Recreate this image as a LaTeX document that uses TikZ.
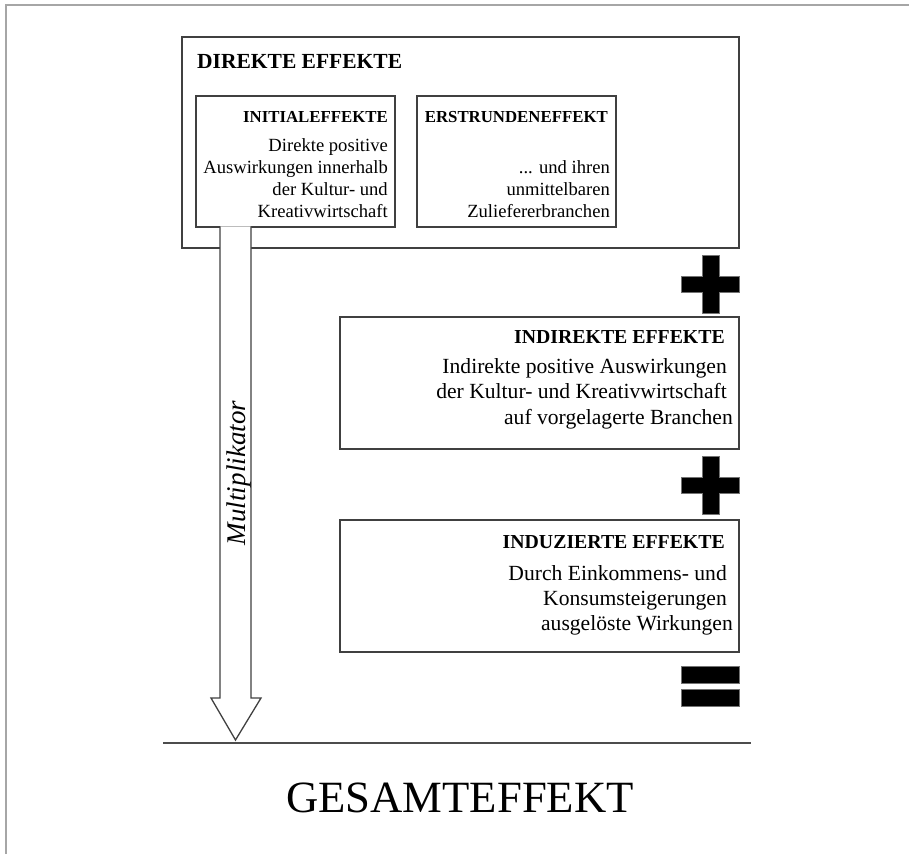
\documentclass[tikz,border=0pt]{standalone}
\usepackage{fontspec}
\setmainfont{Liberation Serif}
\begin{document}
\begin{tikzpicture}[x=1pt,y=-1pt,
  box/.style={draw=black!75, line width=1.3pt, inner sep=0pt, outer sep=0pt, anchor=north west},
  smtitle/.style={font=\fontsize{16.8}{20}\selectfont\bfseries, inner sep=0pt, anchor=base east},
  smbody/.style={font=\fontsize{18.6}{22}\selectfont, inner sep=0pt, anchor=base east},
  lgtitle/.style={font=\fontsize{19.8}{23}\selectfont\bfseries, inner sep=0pt, anchor=base east},
  lgbody/.style={font=\fontsize{21.6}{26}\selectfont, inner sep=0pt, anchor=base east},
  sym/.style={fill=black, draw=black!55, line width=0.6pt},
  frame/.style={draw=black!35, line width=1.5pt},
  hline/.style={draw=black!70, line width=1.6pt}
]
\useasboundingbox (0,0) rectangle (909,854);
\draw[frame] (6,854) -- (6,5) -- (909,5);

% boxes
\node[box, minimum width=557pt, minimum height=211pt] (direkte) at (182,37) {};
\node[box, minimum width=199pt, minimum height=131pt] (initial) at (196,96) {};
\node[box, minimum width=199pt, minimum height=131pt] (erst) at (417,96) {};
\node[box, minimum width=399pt, minimum height=132pt] (indirekt) at (340,317) {};
\node[box, minimum width=399pt, minimum height=132pt] (induz) at (340,520) {};

% texts
\node[font=\fontsize{21.5}{25}\selectfont\bfseries, inner sep=0pt, anchor=base west] (tdir) at (197,68) {DIREKTE EFFEKTE};

\node[smtitle] (tini) at (388,122) {INITIALEFFEKTE};
\node[smbody] (ini1) at (388,151) {Direkte positive};
\node[smbody] (ini2) at (388,173) {Auswirkungen innerhalb};
\node[smbody] (ini3) at (388,195) {der Kultur- und};
\node[smbody] (ini4) at (388,217) {Kreativwirtschaft};

\node[smtitle] (terst) at (608,122) {ERSTRUNDENEFFEKT};
\node[smbody] (erst1) at (610,173) {... und ihren};
\node[smbody] (erst2) at (610,195) {unmittelbaren};
\node[smbody] (erst3) at (610,217) {Zuliefererbranchen};

\node[lgtitle] (tind) at (725,343) {INDIREKTE EFFEKTE};
\node[lgbody] (ind1) at (727,373) {Indirekte positive Auswirkungen};
\node[lgbody] (ind2) at (727,398) {der Kultur- und Kreativwirtschaft};
\node[lgbody] (ind3) at (733,424) {auf vorgelagerte Branchen};

\node[lgtitle] (tinz) at (725,548) {INDUZIERTE EFFEKTE};
\node[lgbody] (inz1) at (727,580) {Durch Einkommens- und};
\node[lgbody] (inz2) at (727,605) {Konsumsteigerungen};
\node[lgbody] (inz3) at (733,630) {ausgelöste Wirkungen};

% block arrow
\coordinate (tip) at (235.5,740);
\draw[draw=black!75, line width=1.3pt, fill=white, line join=miter]
  (220,226.4) -- (220,698) -- (211,698) -- (tip) -- (261,698) -- (251,698) -- (251,226.4);
\node[font=\fontsize{27}{30}\selectfont\itshape, inner sep=0pt, rotate=90, anchor=base] (mult) at (245,473) {Multiplikator};

% plus / equals signs
\draw[sym] (702,255) -- (719,255) -- (719,276) -- (739,276) -- (739,292) -- (719,292) -- (719,313) -- (702,313) -- (702,292) -- (681,292) -- (681,276) -- (702,276) -- cycle;
\draw[sym] (702,456) -- (719,456) -- (719,477) -- (739,477) -- (739,493) -- (719,493) -- (719,514) -- (702,514) -- (702,493) -- (681,493) -- (681,477) -- (702,477) -- cycle;
\draw[sym] (681,666) rectangle (739,683);
\draw[sym] (681,689) rectangle (739,706);

% base line and total
\coordinate (lineL) at (163,743);
\coordinate (lineR) at (751,743);
\draw[hline] (lineL) -- (lineR);
\node[font=\fontsize{44.7}{50}\selectfont, inner sep=0pt, anchor=base] (gesamt) at (460,812) {GESAMTEFFEKT};
\end{tikzpicture}
\end{document}
